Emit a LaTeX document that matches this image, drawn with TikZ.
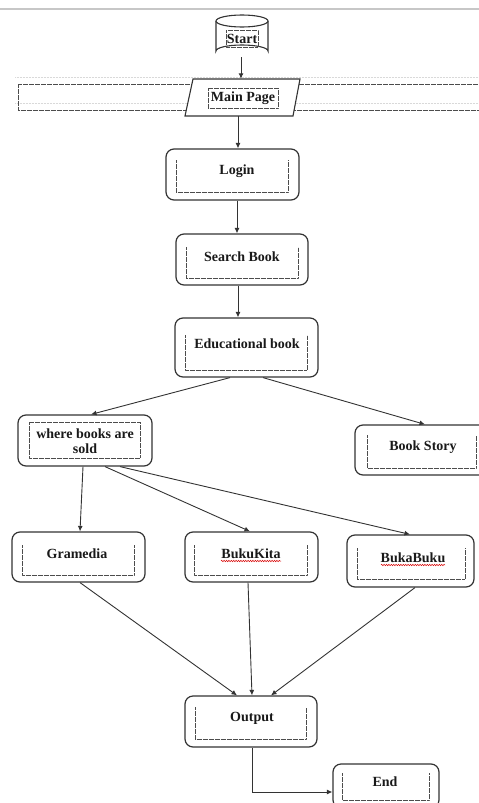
\documentclass[tikz,border=0pt]{standalone}
\usepackage{fontspec}
\setmainfont{Liberation Serif}
\usetikzlibrary{arrows.meta,decorations.pathmorphing}
\begin{document}
\begin{tikzpicture}[x=1pt,y=-1pt,
  box/.style={draw=black!80,line width=1.2pt,rounded corners=8pt,fill=white,inner sep=0pt},
  hidden/.style={inner sep=0pt,draw=none},
  txt/.style={font=\fontsize{14}{16}\selectfont\bfseries,text=black!90,inner sep=0pt,align=center},
  dotbox/.style={draw=black!70,line width=0.6pt,dash pattern=on 0.45pt off 0.75pt},
  ghost/.style={draw=black!15,line width=0.9pt,dash pattern=on 0.6pt off 0.9pt},
  arr/.style={draw=black!80,line width=0.9pt,-{Latex[length=5.5pt,width=5pt]}},
  wavy/.style={draw=red!85!black,line width=0.5pt,decorate,decoration={snake,amplitude=0.7pt,segment length=2.4pt}}
]
\useasboundingbox (0,0) rectangle (479,803);
% top gray line
\draw[draw=black!22,line width=1.4pt] (0,9) -- (479,9);

% wide dotted frame behind main page
\draw[ghost] (15,77) -- (479,77);
\draw[ghost] (15,103) -- (479,103);
\draw[dotbox] (485,84) -- (18,84) -- (18,110) -- (485,110);

% Start cylinder
\node[hidden,minimum width=52pt,minimum height=43pt] (start) at (242,35.5) {};
\draw[draw=black!80,line width=1.1pt,fill=white]
  (216,21) -- (216,51) arc[start angle=180,end angle=360,x radius=26,y radius=6] -- (268,21);
\draw[draw=black!80,line width=1.1pt,fill=white] (242,21) ellipse[x radius=26,y radius=6];
\draw[dotbox] (226,30) rectangle (258,47);
\node[txt] (startt) at (242,39) {Start};

% Main Page parallelogram
\node[hidden,minimum width=108pt,minimum height=37pt] (main) at (243,97.5) {};
\draw[draw=black!80,line width=1.1pt,fill=white] (193,79) -- (300,79) -- (293,116) -- (185,116) -- cycle;
\draw[dotbox] (208,88) rectangle (278,108);
\node[txt] (maint) at (243,98) {Main Page};

% process boxes
\node[box,minimum width=133pt,minimum height=51pt] (login) at (232.5,174.5) {};
\draw[dotbox] (176,160) -- (176,192) -- (288,192) -- (288,160);
\node[txt] (logint) at (237,171) {Login};

\node[box,minimum width=132pt,minimum height=51pt] (search) at (242,259.5) {};
\draw[dotbox] (186,247) -- (186,278) -- (298,278) -- (298,247);
\node[txt] (searcht) at (242,257) {Search Book};

\node[box,minimum width=143pt,minimum height=59pt] (edu) at (246.5,347.5) {};
\draw[dotbox] (185,335) -- (185,370) -- (307,370) -- (307,335);
\node[txt] (edut) at (247,344) {Educational book};

\node[box,minimum width=134pt,minimum height=51pt] (where) at (85,440.5) {};
\draw[dotbox] (29,422) rectangle (140,458);
\node[txt] (wheret) at (85,441) {where books are\\[-1pt]sold};

\node[box,minimum width=140pt,minimum height=50pt] (story) at (425,450) {};
\draw[dotbox] (367,435) -- (367,468) -- (476,468) -- (476,435);
\node[txt] (storyt) at (423,447) {Book Story};

\node[box,minimum width=133pt,minimum height=50pt] (gram) at (78.5,557) {};
\draw[dotbox] (22,545) -- (22,575) -- (134,575) -- (134,545);
\node[txt] (gramt) at (77,554) {Gramedia};

\node[box,minimum width=133pt,minimum height=50pt] (kita) at (251.5,557) {};
\draw[dotbox] (194,545) -- (194,575) -- (307,575) -- (307,545);
\node[txt] (kitat) at (251,554) {BukuKita};
\draw[wavy] (221,561) -- (281,561);

\node[box,minimum width=127pt,minimum height=52pt] (buka) at (410.5,561) {};
\draw[dotbox] (357,548) -- (357,579) -- (465,579) -- (465,548);
\node[txt] (bukat) at (413,558) {BukaBuku};
\draw[wavy] (381,565) -- (445,565);

\node[box,minimum width=132pt,minimum height=51pt] (output) at (251,721.5) {};
\draw[dotbox] (195,707) -- (195,739) -- (306,739) -- (306,707);
\node[txt] (outputt) at (252,718) {Output};

\node[box,minimum width=106pt,minimum height=44pt] (end) at (386,786) {};
\draw[dotbox] (342,773) -- (342,800) -- (429,800) -- (429,773);
\node[txt] (endt) at (385,782) {End};

% connectors
\draw[arr] ([xshift=-1pt]start.south) -- ([xshift=-2pt]main.north);
\draw[arr] ([xshift=-5pt]main.south) -- ([xshift=5.5pt]login.north);
\draw[arr] ([xshift=4.5pt]login.south) -- ([xshift=-5pt]search.north);
\draw[arr] ([xshift=-4pt]search.south) -- ([xshift=-8.5pt]edu.north);
\draw[arr] ([xshift=-16.5pt]edu.south) -- ([xshift=6pt]where.north);
\draw[arr] ([xshift=16.5pt]edu.south) -- (story.north);
\draw[arr] ([xshift=-2pt]where.south) -- ([xshift=1.5pt]gram.north);
\draw[arr] ([xshift=20pt]where.south) -- ([xshift=-1.5pt]kita.north);
\draw[arr] ([xshift=35pt]where.south) -- ([xshift=-0.5pt]buka.north);
\draw[arr] ([xshift=1.5pt]gram.south) -- ([xshift=-14pt]output.north);
\draw[arr] ([xshift=-3.5pt]kita.south) -- ([xshift=1pt]output.north);
\draw[arr] ([xshift=4.5pt]buka.south) -- ([xshift=20pt]output.north);
\draw[arr] ([xshift=1pt]output.south) |- ([yshift=-6pt]end.west);
\end{tikzpicture}
\end{document}
